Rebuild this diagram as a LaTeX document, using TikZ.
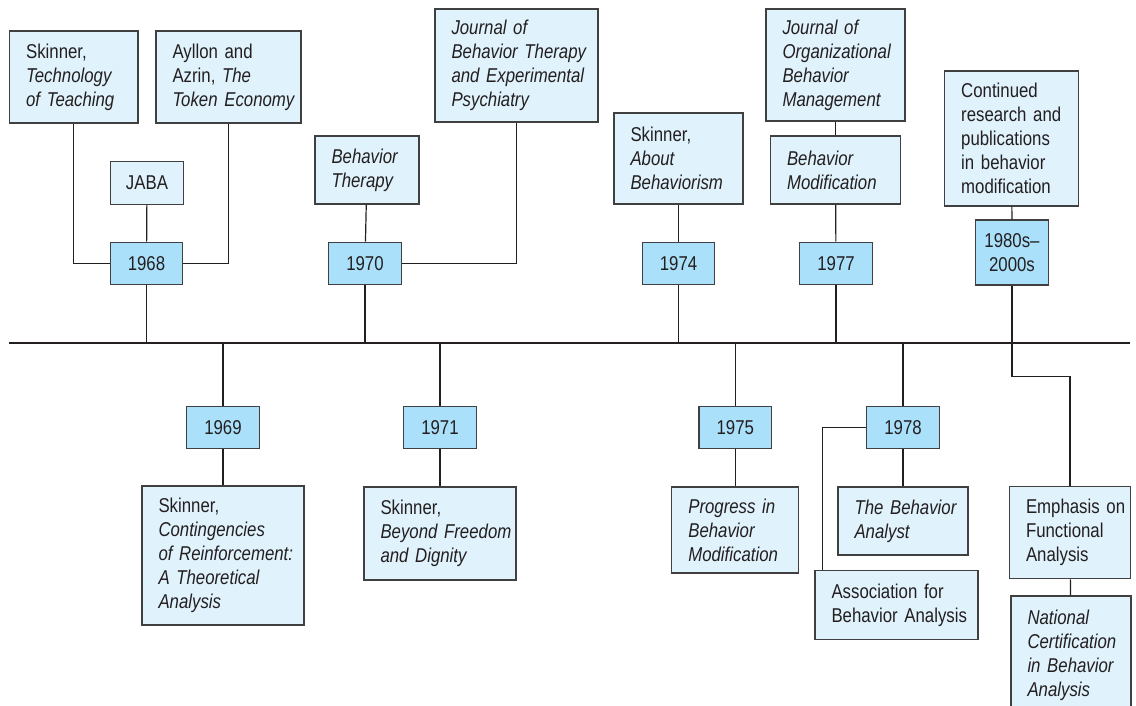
\documentclass[tikz,border=0pt]{standalone}
\usepackage{fontspec}
\setmainfont[FakeStretch=0.84]{Liberation Sans}
\definecolor{eventblue}{RGB}{224,242,252}
\definecolor{yearblue}{RGB}{170,224,250}
\definecolor{boxline}{RGB}{64,64,64}
\definecolor{inkblack}{RGB}{35,31,32}
\newcommand\evfont{\fontsize{20}{24}\selectfont}
\hyphenpenalty=10000
\exhyphenpenalty=10000
\begin{document}
\begin{tikzpicture}[x=1pt,y=-1pt,
  event node/.style={rectangle,draw=boxline,fill=eventblue,line width=1.3pt,inner xsep=16.5pt,inner ysep=0pt,align=left,text=inkblack,font=\evfont},
  year node/.style={rectangle,draw=boxline,fill=yearblue,line width=1.3pt,inner sep=0pt,minimum width=72.5pt,minimum height=42.5pt,align=center,text=inkblack,font=\evfont},
  link/.style={draw=inkblack,line width=1.2pt}]
  \useasboundingbox (0,0) rectangle (1136,706);
  \clip (0,0) rectangle (1136,706);

  % timeline
  \coordinate (tl west) at (9,343);
  \coordinate (tl east) at (1130,343);

  % above the line
  \node[year node] (y68) at (146.5,263.5) {1968};
  \node[year node,fill=eventblue] (jaba) at (147,183) {JABA};
  \node[event node,text width=95.4pt,minimum height=92pt] (tech) at (73.8,77) {Skinner,\\ \textit{Technology}\\ \textit{of~Teaching}};
  \node[event node,text width=112pt,minimum height=92pt] (ayllon) at (228.5,77) {Ayllon~and\\ Azrin, \textit{The}\\ \textit{Token~Economy}};
  \node[year node] (y70) at (365,263.5) {1970};
  \node[event node,text width=71pt,minimum height=68pt] (bt) at (367,170) {\textit{Behavior}\\ \textit{Therapy}};
  \node[event node,text width=130pt,minimum height=113pt] (jbtep) at (516.5,65.5) {\textit{Journal~of}\\ \textit{Behavior~Therapy}\\ \textit{and~Experimental}\\ \textit{Psychiatry}};
  \node[year node] (y74) at (678.5,263.5) {1974};
  \node[event node,text width=96pt,minimum height=91pt] (about) at (678.5,158.5) {Skinner,\\ \textit{About}\\ \textit{Behaviorism}};
  \node[year node] (y77) at (836,263.5) {1977};
  \node[event node,text width=97pt,minimum height=68pt] (bmod) at (835.5,170) {\textit{Behavior}\\ \textit{Modification}};
  \node[event node,text width=106pt,minimum height=112pt] (jobm) at (835.5,65) {\textit{Journal~of}\\ \textit{Organizational}\\ \textit{Behavior}\\ \textit{Management}};
  \node[year node,minimum height=65pt] (y80) at (1012,252.5) {1980s--\\2000s};
  \node[event node,text width=101pt,minimum height=135pt] (cont) at (1011.7,138.5) {Continued\\ research~and\\ publications\\ in~behavior\\ modification};

  % below the line
  \node[year node] (y69) at (223,427.5) {1969};
  \node[event node,text width=129pt,minimum height=139pt] (contg) at (223,555.5) {Skinner,\\ \textit{Contingencies}\\ \textit{of~Reinforcement:}\\ \textit{A~Theoretical}\\ \textit{Analysis}};
  \node[year node] (y71) at (440,427.5) {1971};
  \node[event node,text width=119pt,minimum height=93pt] (beyond) at (440,533.5) {Skinner,\\ \textit{Beyond~Freedom}\\ \textit{and~Dignity}};
  \node[year node] (y75) at (735.3,427.5) {1975};
  \node[event node,text width=94pt,minimum height=86pt] (progress) at (735.3,530) {\textit{Progress~in}\\ \textit{Behavior}\\ \textit{Modification}};
  \node[year node] (y78) at (903,427.5) {1978};
  \node[event node,text width=97pt,minimum height=68pt] (analyst) at (903,521) {\textit{The~Behavior}\\ \textit{Analyst}};
  \node[event node,text width=130pt,minimum height=69pt] (assoc) at (896.5,605) {Association~for\\ Behavior~Analysis};
  \node[event node,text width=88pt,minimum height=92pt] (emph) at (1070,532.7) {Emphasis~on\\ Functional\\ Analysis};
  \node[event node,text width=87pt,minimum height=118pt] (natl) at (1071,655) {\textit{National}\\ \textit{Certification}\\ \textit{in~Behavior}\\ \textit{Analysis}};

  \draw[link] (tl west) -- (tl east);
  \path[link]
    (y68) edge (jaba)
          edge (y68 |- tl west)
    (y70) edge (bt)
          edge (y70 |- tl west)
    (y74) edge (about)
          edge (y74 |- tl west)
    (y77) edge (bmod)
          edge (y77 |- tl west)
    (bmod) edge (jobm)
    (y80) edge (cont)
    (y69) edge (contg)
          edge (y69 |- tl west)
    (y71) edge (beyond)
          edge (y71 |- tl west)
    (y75) edge (progress)
          edge (y75 |- tl west)
    (y78) edge (analyst)
          edge (y78 |- tl west)
    (emph) edge (natl);
  \draw[link] (tech) |- (y68);
  \draw[link] (ayllon) |- (y68);
  \draw[link] (jbtep) |- (y70);
  \draw[link] (y78) -| ([xshift=8pt]assoc.north west);
  \draw[link] (y80.south) -- ++(0,91) -| (emph);
\end{tikzpicture}
\end{document}
